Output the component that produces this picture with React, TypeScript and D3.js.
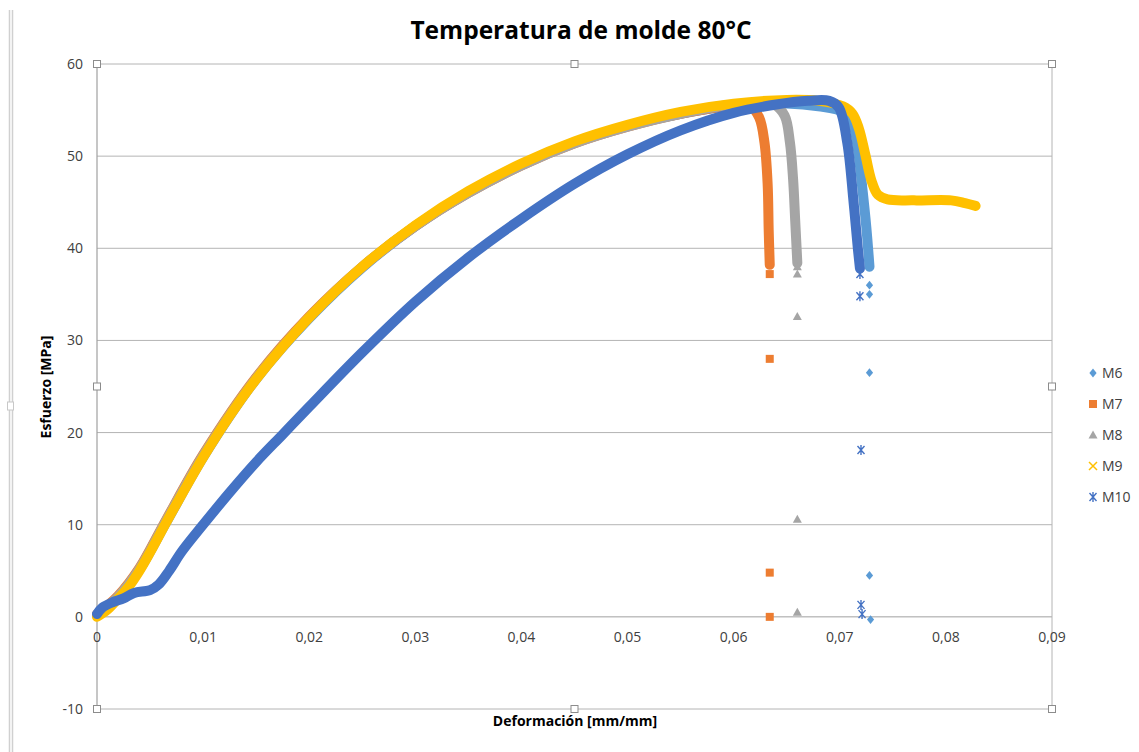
import React from "react";
import * as d3 from "d3";

type P = [number, number];

const seriesNames = ["M6", "M7", "M8", "M9", "M10"];
const seriesColors = ["#5B9BD5", "#ED7D31", "#A5A5A5", "#FFC000", "#4472C4"];
const xTicks = [0, 0.01, 0.02, 0.03, 0.04, 0.05, 0.06, 0.07, 0.08, 0.09];
const yTicks = [-10, 0, 10, 20, 30, 40, 50, 60];

// Dense (continuous band) portion of each series
const m6Curve: P[] = [
  [0, 0.2], [0.002, 2.1], [0.004, 5.1], [0.0065, 10.2], [0.01, 17.3], [0.015, 25.8], [0.02, 32.4],
  [0.025, 37.9], [0.03, 42.4], [0.035, 46.1], [0.04, 49.1], [0.045, 51.5], [0.05, 53.3], [0.055, 54.6],
  [0.06, 55.5], [0.065, 55.7], [0.068, 55.4], [0.0703, 54.8], [0.0712, 53.6], [0.0717, 50.8],
  [0.0721, 46.8], [0.0725, 42.3], [0.0728, 38.0],
];
const m7Curve: P[] = [
  [0, 0.3], [0.002, 2.3], [0.004, 5.3], [0.0065, 10.5], [0.01, 17.6], [0.015, 26.0], [0.02, 32.6],
  [0.025, 38.0], [0.03, 42.4], [0.035, 46.0], [0.04, 49.0], [0.045, 51.4], [0.05, 53.2], [0.055, 54.6],
  [0.06, 55.5], [0.0615, 55.5], [0.0624, 54.2], [0.0629, 51.5], [0.0632, 47.0], [0.0633, 42.0],
  [0.0634, 38.2],
];
const m8Curve: P[] = [
  [0, 0.2], [0.002, 2.2], [0.004, 5.2], [0.0065, 10.4], [0.01, 17.5], [0.015, 25.9], [0.02, 32.5],
  [0.025, 38.0], [0.03, 42.4], [0.035, 46.0], [0.04, 49.0], [0.045, 51.4], [0.05, 53.2], [0.055, 54.6],
  [0.06, 55.6], [0.0638, 55.6], [0.0648, 54.4], [0.0653, 51.5], [0.0656, 47.5], [0.0658, 43.0],
  [0.066, 38.4],
];
const m9Curve: P[] = [
  [0, 0], [0.001, 0.8], [0.002, 2.0], [0.003, 3.3], [0.004, 5.0], [0.005, 7.0], [0.0065, 10.2],
  [0.008, 13.3], [0.01, 17.3], [0.0125, 21.8], [0.015, 25.8], [0.0175, 29.3], [0.02, 32.5],
  [0.025, 38.0], [0.03, 42.5], [0.035, 46.2], [0.04, 49.2], [0.045, 51.6], [0.05, 53.4],
  [0.055, 54.8], [0.06, 55.7], [0.065, 56.1], [0.068, 56.0], [0.0703, 55.4], [0.0712, 54.6],
  [0.0718, 53.0], [0.0724, 50.2], [0.073, 47.3], [0.0736, 45.8], [0.0745, 45.3], [0.077, 45.2],
  [0.0805, 45.2], [0.0818, 44.9], [0.0828, 44.6],
];
const m10Curve: P[] = [
  [0, 0.3], [0.0005, 1.0], [0.0015, 1.6], [0.0025, 2.0], [0.0035, 2.6], [0.005, 2.9], [0.0058, 3.5],
  [0.0068, 5.0], [0.008, 7.1], [0.01, 10.0], [0.0125, 13.5], [0.015, 16.8], [0.0175, 19.8],
  [0.02, 22.8], [0.025, 28.7], [0.03, 34.2], [0.035, 39.0], [0.04, 43.2], [0.045, 47.0],
  [0.05, 50.2], [0.055, 52.8], [0.06, 54.7], [0.064, 55.6], [0.067, 56.0], [0.069, 56.0],
  [0.0699, 55.3], [0.0707, 51.5], [0.0713, 45.0], [0.0717, 40.0], [0.0719, 37.8],
];

// Sparse points after fracture
const m6Tail: P[] = [[0.0728, 36.0], [0.0728, 35.0], [0.0728, 26.5], [0.0728, 4.5], [0.0729, -0.3]];
const m7Tail: P[] = [[0.0634, 37.2], [0.0634, 28.0], [0.0634, 4.8], [0.0634, 0]];
const m8Tail: P[] = [[0.066, 38.0], [0.066, 37.2], [0.066, 32.6], [0.066, 10.6], [0.066, 0.5]];
const m9Tail: P[] = [];
const m10Tail: P[] = [[0.0719, 37.2], [0.0719, 34.8], [0.072, 18.1], [0.072, 1.3], [0.0721, 0.3]];

const curves = [m6Curve, m7Curve, m8Curve, m9Curve, m10Curve];
const tails = [m6Tail, m7Tail, m8Tail, m9Tail, m10Tail];

const W = 1139;
const H = 752;
const left = 97, right = 1052, top = 64, bottom = 709;

const FONT = "'Open Sans', 'Liberation Sans', sans-serif";

function Marker({ kind, x, y, color }: { kind: number; x: number; y: number; color: string }) {
  const s = 3.6;
  if (kind === 0) {
    return <path d={`M${x},${y - s - 0.8}L${x + s},${y}L${x},${y + s + 0.8}L${x - s},${y}Z`} fill={color} />;
  }
  if (kind === 1) {
    return <rect x={x - 4} y={y - 4} width={8} height={8} fill={color} />;
  }
  if (kind === 2) {
    return <path d={`M${x},${y - 4.5}L${x + 4.5},${y + 3.5}L${x - 4.5},${y + 3.5}Z`} fill={color} />;
  }
  if (kind === 3) {
    return (
      <path d={`M${x - 4},${y - 4}L${x + 4},${y + 4}M${x - 4},${y + 4}L${x + 4},${y - 4}`} stroke={color} strokeWidth={1.5} fill="none" />
    );
  }
  return (
    <path
      d={`M${x - 3.5},${y - 4}L${x + 3.5},${y + 4}M${x - 3.5},${y + 4}L${x + 3.5},${y - 4}M${x},${y - 5}L${x},${y + 5}`}
      stroke={color}
      strokeWidth={1.4}
      fill="none"
    />
  );
}

function Handle({ x, y }: { x: number; y: number }) {
  return <rect x={x - 3.5} y={y - 3.5} width={7} height={7} fill="#fff" stroke="#8c8c8c" strokeWidth={1} />;
}

export default function App() {
  const xs = d3.scaleLinear().domain([0, 0.09]).range([left, right]);
  const ys = d3.scaleLinear().domain([-10, 60]).range([bottom, top]);
  const line = d3
    .line<P>()
    .x((d) => xs(d[0]))
    .y((d) => ys(d[1]))
    .curve(d3.curveCatmullRom.alpha(0.5));

  return (
    <svg width={W} height={H} style={{ position: "absolute", left: 0, top: 0, background: "#fff" }}>
      {/* window edge */}
      <line x1={9.5} y1={10} x2={9.5} y2={752} stroke="#d0d0d0" strokeWidth={1.5} />
      <line x1={12.5} y1={10} x2={12.5} y2={752} stroke="#d0d0d0" strokeWidth={1.5} />
      <rect x={7.5} y={402} width={6} height={8} fill="#fff" stroke="#c8c8c8" />

      {/* title */}
      <text x={581} y={39} textAnchor="middle" fontFamily={FONT} fontWeight={700} fontSize={24.5} fill="#000">
        Temperatura de molde 80°C
      </text>

      {/* gridlines */}
      {yTicks.map((t) => (
        <line key={t} x1={left} x2={right} y1={ys(t)} y2={ys(t)} stroke={t === 0 ? "#a0a0a0" : "#b4b4b4"} strokeWidth={1} />
      ))}
      <line x1={left} x2={left} y1={top} y2={bottom} stroke="#a0a0a0" strokeWidth={1.2} />
      <line x1={right} x2={right} y1={top} y2={bottom} stroke="#b4b4b4" strokeWidth={1} />

      {/* y tick labels */}
      {yTicks.map((t) => (
        <text key={t} x={83} y={ys(t) + 5} textAnchor="end" fontFamily={FONT} fontSize={14} fill="#404040">
          {t}
        </text>
      ))}
      {/* x tick labels */}
      {xTicks.map((t) => (
        <text key={t} x={xs(t)} y={642} textAnchor="middle" fontFamily={FONT} fontSize={14} fill="#404040">
          {t === 0 ? "0" : t.toFixed(2).replace(".", ",")}
        </text>
      ))}

      {/* axis titles */}
      <text x={575} y={726} textAnchor="middle" fontFamily={FONT} fontWeight={700} fontSize={14} fill="#000">
        Deformación [mm/mm]
      </text>
      <text
        transform={`translate(51,387) rotate(-90)`}
        textAnchor="middle"
        fontFamily={FONT}
        fontWeight={700}
        fontSize={14}
        fill="#000"
      >
        Esfuerzo [MPa]
      </text>

      {/* series */}
      {curves.map((c, i) => (
        <g key={seriesNames[i]}>
          <path d={line(c) || ""} fill="none" stroke={seriesColors[i]} strokeWidth={10} strokeLinejoin="round" strokeLinecap="round" />
          {tails[i].map((p, j) => (
            <Marker key={j} kind={i} x={xs(p[0])} y={ys(p[1])} color={seriesColors[i]} />
          ))}
        </g>
      ))}

      {/* legend */}
      {seriesNames.map((n, i) => (
        <g key={n}>
          <Marker kind={i} x={1093} y={373 + i * 31} color={seriesColors[i]} />
          <text x={1102} y={373 + i * 31 + 5} fontFamily={FONT} fontSize={14} fill="#404040">
            {n}
          </text>
        </g>
      ))}

      {/* selection handles */}
      <Handle x={left} y={top} />
      <Handle x={(left + right) / 2} y={top} />
      <Handle x={right} y={top} />
      <Handle x={left} y={(top + bottom) / 2} />
      <Handle x={right} y={(top + bottom) / 2} />
      <Handle x={left} y={bottom} />
      <Handle x={(left + right) / 2} y={bottom} />
      <Handle x={right} y={bottom} />
    </svg>
  );
}
